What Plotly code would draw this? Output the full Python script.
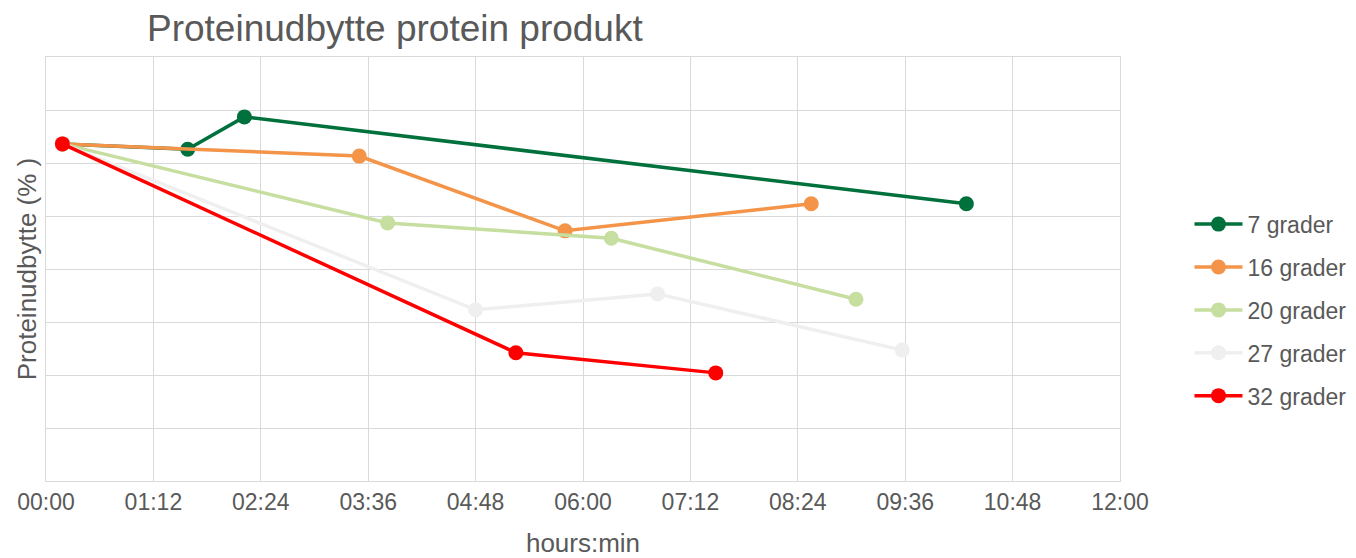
import plotly.graph_objects as go

# Data (time as HH:MM, yield values in arbitrary % units)
series_names = ["7 grader", "16 grader", "20 grader", "27 grader", "32 grader"]
times_7 = ["00:11", "01:35", "02:13", "10:17"]
vals_7 = [63.6, 62.6, 68.7, 52.3]
times_16 = ["00:11", "03:30", "05:48", "08:33"]
vals_16 = [63.6, 61.3, 47.2, 52.3]
times_20 = ["00:11", "03:49", "06:19", "09:03"]
vals_20 = [63.6, 48.7, 45.8, 34.3]
times_27 = ["00:11", "04:48", "06:50", "09:34"]
vals_27 = [63.6, 32.3, 35.3, 24.7]
times_32 = ["00:11", "05:15", "07:29"]
vals_32 = [63.6, 24.2, 20.4]
tick_labels = ["00:00", "01:12", "02:24", "03:36", "04:48", "06:00",
               "07:12", "08:24", "09:36", "10:48", "12:00"]

colors = ["#00703C", "#F39449", "#C6DE9F", "#EFEFEF", "#FF0000"]


def to_min(t):
    h, m = t.split(":")
    return int(h) * 60 + int(m)


all_times = [times_7, times_16, times_20, times_27, times_32]
all_vals = [vals_7, vals_16, vals_20, vals_27, vals_32]

fig = go.Figure()
for name, ts, vs, c in zip(series_names, all_times, all_vals, colors):
    fig.add_trace(go.Scatter(
        x=[to_min(t) for t in ts], y=vs, name=name, mode="lines+markers",
        line=dict(color=c, width=3.5), marker=dict(color=c, size=15),
        legendgroup=name,
    ))

gray = "#595959"
grid = "#D9D9D9"
# page body has an 8px margin, so the figure is sized/offset to compensate
fig.update_layout(
    width=1348, height=550,
    margin=dict(l=38, r=236, t=49, b=77, autoexpand=False),
    paper_bgcolor="white", plot_bgcolor="white",
    font=dict(family="Liberation Sans, Arial, sans-serif", color=gray, size=23),
    title=dict(text="Proteinudbytte protein produkt", x=0.287, xref="container",
               xanchor="center", y=1 - 20 / 550, yanchor="middle",
               font=dict(size=37, color=gray)),
    xaxis=dict(range=[0, 720], tickvals=[to_min(t) for t in tick_labels],
               ticktext=tick_labels, showgrid=True, gridcolor=grid, gridwidth=1,
               showline=True, linecolor=grid, linewidth=1, mirror=True,
               zeroline=False, ticks="", tickfont=dict(size=23, color=gray),
               automargin=False,
               title=dict(text="hours:min", standoff=21, font=dict(size=26, color=gray))),
    yaxis=dict(range=[0, 80], dtick=10, showticklabels=False, showgrid=True,
               gridcolor=grid, gridwidth=1, showline=True, linecolor=grid,
               linewidth=1, mirror=True, zeroline=False, ticks="",
               automargin=False,
               title=dict(text="Proteinudbytte (% )", standoff=0,
                          font=dict(size=26, color=gray))),
    legend=dict(x=1.0647, xanchor="left", y=0.403, yanchor="middle",
                font=dict(size=23, color=gray), tracegroupgap=10,
                itemwidth=48, bgcolor="rgba(0,0,0,0)"),
    showlegend=True,
)

fig.write_html("out.html")
